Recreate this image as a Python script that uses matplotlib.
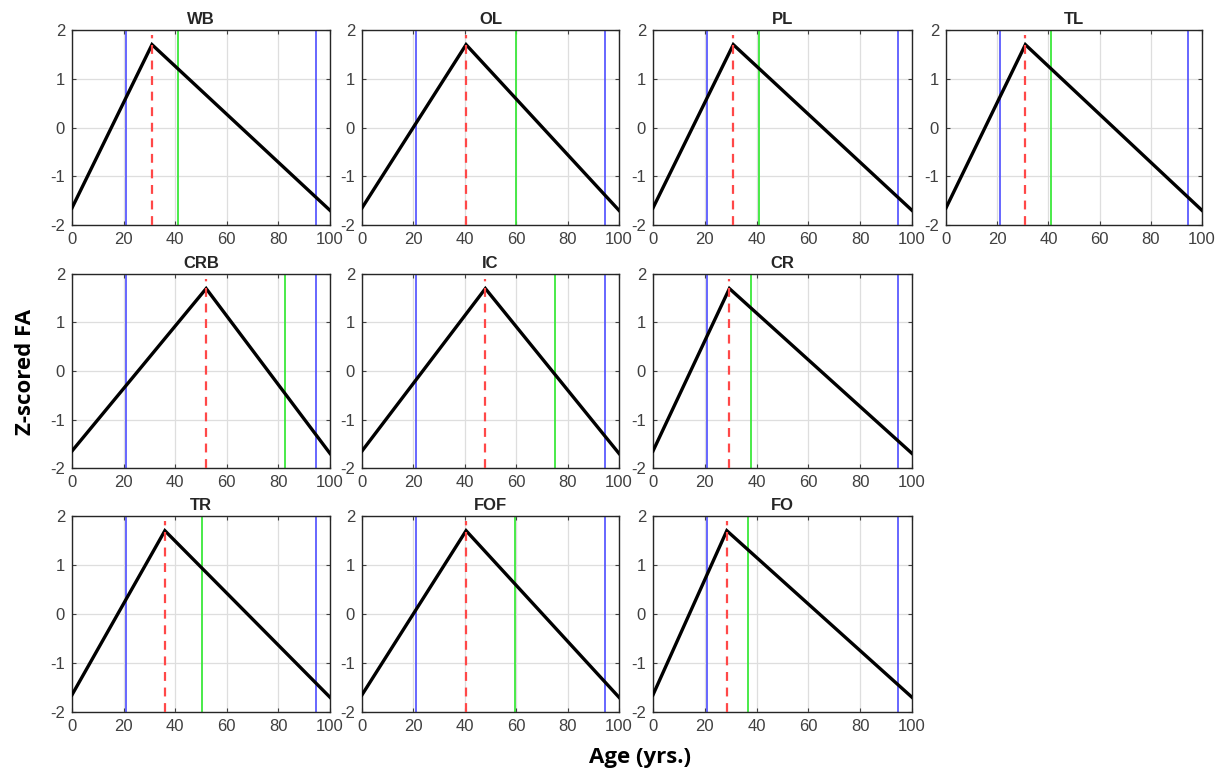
import matplotlib
matplotlib.use("Agg")
import matplotlib.pyplot as plt

regions = ["WB", "OL", "PL", "TL", "CRB", "IC", "CR", "TR", "FOF", "FO"]
peak_age = [31, 40.5, 31, 31, 52, 48, 29.5, 36, 40.5, 28.5]
green_age = [41, 60, 41, 41, 82.5, 75, 38, 50.5, 59.5, 36.5]
blue_ages = [21, 94.5]
start_val = -1.65
peak_val = 1.7
end_val = -1.7
red_top = 1.9
xticks = [0, 20, 40, 60, 80, 100]
yticks = [-2, -1, 0, 1, 2]

W, H = 1220, 774
plt.rcParams['font.family'] = ['Liberation Sans', 'DejaVu Sans']
plt.rcParams['axes.unicode_minus'] = False
fig = plt.figure(figsize=(W / 100, H / 100), dpi=100)

cols_px = [(72, 330), (362, 619), (653, 912), (946, 1202)]
rows_px = [(30, 225), (274, 468), (516, 712)]
slots = [(0, 0), (0, 1), (0, 2), (0, 3), (1, 0), (1, 1), (1, 2), (2, 0), (2, 1), (2, 2)]

for name, pk, gr, (r, c) in zip(regions, peak_age, green_age, slots):
    x0, x1 = cols_px[c]
    y0, y1 = rows_px[r]
    ax = fig.add_axes([x0 / W, 1 - y1 / H, (x1 - x0) / W, (y1 - y0) / H])
    ax.set_xlim(0, 100)
    ax.set_ylim(-2, 2)
    ax.set_xticks(xticks)
    ax.set_yticks(yticks)
    ax.grid(True, color='#dedede', linewidth=0.9)
    ax.set_axisbelow(True)
    for b in blue_ages:
        ax.axvline(b, color='#4848ff', linewidth=1.3, alpha=0.9, zorder=2)
    ax.axvline(gr, color='#3ae83a', linewidth=1.3, zorder=2)
    ax.plot([0, pk, 100], [start_val, peak_val, end_val], color='black', linewidth=2.4,
            solid_joinstyle='miter', zorder=3)
    ax.plot([pk, pk], [-2, red_top], color='#ff4848', linestyle=(0, (4, 3)),
            linewidth=1.6, zorder=4)
    ax.set_title(name, fontsize=12, fontweight='bold', color='#262626', pad=4)
    ax.tick_params(direction='in', length=3, labelsize=12, colors='#404040',
                   top=True, right=True, pad=5)
    for s in ax.spines.values():
        s.set_color('#262626')
        s.set_linewidth(1.0)

fig.text(26 / W, 1 - 372 / H, "Z-scored FA", rotation=90, ha='center', va='center',
         fontsize=16, fontweight='bold', family=['Open Sans', 'DejaVu Sans'])
fig.text(640 / W, 1 - 758 / H, "Age (yrs.)", ha='center', va='center',
         fontsize=16, fontweight='bold', family=['Open Sans', 'DejaVu Sans'])

fig.savefig("out.png", dpi=100)
